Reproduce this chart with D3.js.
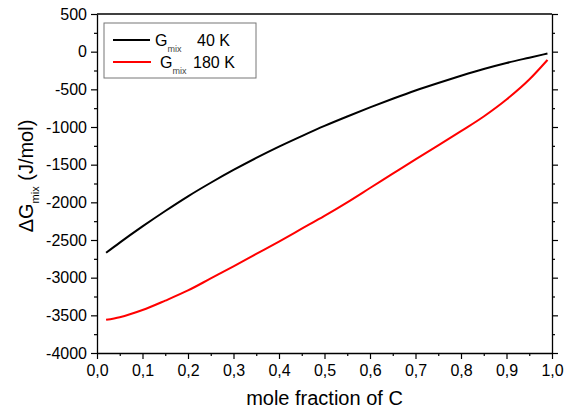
<!DOCTYPE html>
<html>
<head>
<meta charset="utf-8">
<script src="https://cdn.jsdelivr.net/npm/d3@7"></script>
<style>
  body { margin: 0; background: #fff; }
  svg { font-family: "Liberation Sans", Arial, sans-serif; }
</style>
</head>
<body>
<svg width="566" height="414"></svg>
<script>
// mole fraction of C
var xs = [0.02, 0.05, 0.1, 0.15, 0.2, 0.25, 0.3, 0.35, 0.4, 0.45, 0.5,
          0.55, 0.6, 0.65, 0.7, 0.75, 0.8, 0.85, 0.9, 0.95, 0.99];
// Gmix at 40 K (J/mol)
var g40 = [-2670, -2535, -2320, -2115, -1920, -1740, -1570, -1410, -1260, -1120, -985,
           -860, -740, -625, -515, -415, -320, -230, -150, -80, -25];
// Gmix at 180 K (J/mol)
var g180 = [-3560, -3525, -3430, -3305, -3170, -3010, -2850, -2685, -2520, -2350, -2180,
            -2000, -1810, -1620, -1430, -1245, -1055, -860, -635, -370, -110];
var xTicks = [0, 0.1, 0.2, 0.3, 0.4, 0.5, 0.6, 0.7, 0.8, 0.9, 1.0];
var yTicks = [500, 0, -500, -1000, -1500, -2000, -2500, -3000, -3500, -4000];
var seriesNames = ['40 K', '180 K'];
var seriesColors = ['#000000', '#ff0000'];

var svg = d3.select('svg'),
    width = +svg.attr('width'),
    height = +svg.attr('height'),
    margin = {top: 14, right: 14, bottom: 61, left: 97},
    w = width - margin.left - margin.right,
    h = height - margin.top - margin.bottom;

var x = d3.scaleLinear().domain([0, 1]).range([0, w]),
    y = d3.scaleLinear().domain([-4000, 500]).range([h, 0]);

var g = svg.append('g').attr('transform', 'translate(' + margin.left + ',' + margin.top + ')');

var fmtX = function(d) { return d3.format('.1f')(d).replace('.', ','); };
var fmtY = function(d) { return String(d); };

// minor ticks first
var xMinor = d3.range(0, 10).map(function(i) { return 0.05 + i * 0.1; });
var yMinor = d3.range(0, 9).map(function(i) { return 250 - i * 500; });

g.append('g')
  .attr('transform', 'translate(0,' + h + ')')
  .call(d3.axisBottom(x).tickValues(xMinor).tickSize(3).tickFormat(''))
  .call(function(a) { a.select('.domain').remove(); });
g.append('g')
  .call(d3.axisLeft(y).tickValues(yMinor).tickSize(3).tickFormat(''))
  .call(function(a) { a.select('.domain').remove(); });
g.append('g')
  .attr('transform', 'translate(' + w + ',0)')
  .call(d3.axisLeft(y).tickValues(yMinor).tickSize(-3).tickFormat(''))
  .call(function(a) { a.select('.domain').remove(); });

// major axes
var xAxis = g.append('g')
  .attr('transform', 'translate(0,' + h + ')')
  .call(d3.axisBottom(x).tickValues(xTicks).tickSize(6).tickPadding(6).tickFormat(fmtX).tickSizeOuter(0));
var yAxis = g.append('g')
  .call(d3.axisLeft(y).tickValues(yTicks).tickSize(6).tickPadding(4).tickFormat(fmtY).tickSizeOuter(0));
g.append('g')
  .attr('transform', 'translate(' + w + ',0)')
  .call(d3.axisLeft(y).tickValues(yTicks).tickSize(-6).tickFormat('').tickSizeOuter(0));

[xAxis, yAxis].forEach(function(a) {
  a.selectAll('text').style('font-size', '16px').attr('fill', '#000');
});
svg.selectAll('.tick line').attr('stroke', '#000').attr('stroke-width', 1.2);
svg.selectAll('.domain').attr('stroke', '#000').attr('stroke-width', 1.3);

// top border
g.append('line')
  .attr('x1', 0).attr('x2', w).attr('y1', 0).attr('y2', 0)
  .attr('stroke', '#000').attr('stroke-width', 1.3);

// curves
var line = d3.line()
  .x(function(d) { return x(d[0]); })
  .y(function(d) { return y(d[1]); })
  .curve(d3.curveMonotoneX);

[g40, g180].forEach(function(vals, i) {
  g.append('path')
    .datum(xs.map(function(v, j) { return [v, vals[j]]; }))
    .attr('fill', 'none')
    .attr('stroke', seriesColors[i])
    .attr('stroke-width', 2)
    .attr('d', line);
});

// axis titles
svg.append('text')
  .attr('x', margin.left + w / 2)
  .attr('y', 405)
  .attr('text-anchor', 'middle')
  .style('font-size', '20px')
  .text('mole fraction of C');

var yl = svg.append('text')
  .attr('transform', 'translate(33,176) rotate(-90)')
  .attr('text-anchor', 'middle')
  .style('font-size', '20px');
yl.append('tspan').text('\u0394G');
yl.append('tspan').attr('dy', 6).style('font-size', '11px').text('mix');
yl.append('tspan').attr('dy', -6).text(' (J/mol)');

// legend
var leg = svg.append('g');
leg.append('rect')
  .attr('x', 104).attr('y', 23).attr('width', 152).attr('height', 55)
  .attr('fill', '#fff').attr('stroke', '#777').attr('stroke-width', 1);

var rows = [
  {ly: 40, lx2: 150, gx: 155, tx: 197},
  {ly: 62, lx2: 151, gx: 160, tx: 193}
];
rows.forEach(function(r, i) {
  leg.append('line')
    .attr('x1', 113).attr('x2', r.lx2).attr('y1', r.ly).attr('y2', r.ly)
    .attr('stroke', seriesColors[i]).attr('stroke-width', 2);
  var t = leg.append('text').attr('x', r.gx).attr('y', r.ly + 6).style('font-size', '16px');
  t.append('tspan').text('G');
  t.append('tspan').attr('dy', 6).style('font-size', '9px').style('fill', '#444').text('mix');
  leg.append('text').attr('x', r.tx).attr('y', r.ly + 6).style('font-size', '16px').text(seriesNames[i]);
});
</script>
</body>
</html>
